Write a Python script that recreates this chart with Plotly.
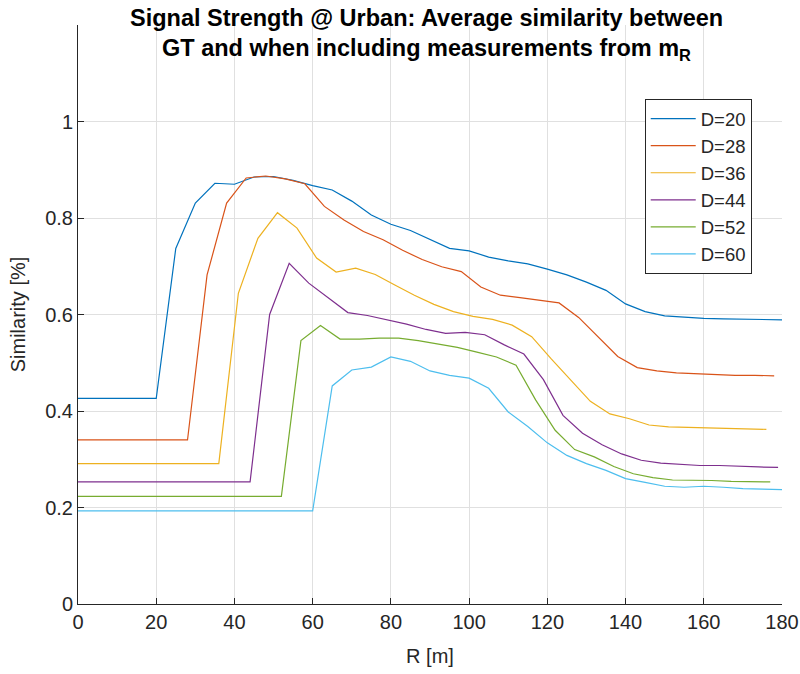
import plotly.graph_objects as go

# ---- data ----
R_d20 = [0] + list(range(20, 181, 5))
S_d20 = [0.426, 0.426, 0.737, 0.831, 0.872, 0.870, 0.885, 0.886, 0.878, 0.867, 0.858, 0.835,
         0.806, 0.787, 0.774, 0.756, 0.737, 0.732, 0.719, 0.711, 0.705, 0.694, 0.682,
         0.667, 0.650, 0.622, 0.606, 0.597, 0.594, 0.592, 0.591, 0.590, 0.590, 0.589]

R_d28 = [0] + list(range(28, 179, 5))
S_d28 = [0.340, 0.340, 0.682, 0.831, 0.883, 0.887, 0.881, 0.871, 0.824, 0.796, 0.772, 0.755,
         0.733, 0.714, 0.699, 0.689, 0.657, 0.640, 0.635, 0.630, 0.624, 0.594, 0.553,
         0.513, 0.490, 0.483, 0.479, 0.477, 0.475, 0.474, 0.474, 0.473]

R_d36 = [0] + list(range(36, 177, 5))
S_d36 = [0.291, 0.291, 0.644, 0.758, 0.811, 0.779, 0.717, 0.688, 0.696, 0.683, 0.661, 0.640,
         0.621, 0.606, 0.596, 0.590, 0.578, 0.554, 0.508, 0.464, 0.420, 0.394, 0.384,
         0.371, 0.367, 0.366, 0.365, 0.364, 0.363, 0.362]

R_d44 = [0] + list(range(44, 180, 5))
S_d44 = [0.253, 0.253, 0.600, 0.706, 0.665, 0.634, 0.604, 0.598, 0.589, 0.580, 0.569, 0.561,
         0.563, 0.558, 0.537, 0.518, 0.465, 0.391, 0.354, 0.330, 0.311, 0.298, 0.292,
         0.289, 0.287, 0.287, 0.285, 0.284, 0.283]

R_d52 = [0] + list(range(52, 178, 5))
S_d52 = [0.223, 0.223, 0.546, 0.577, 0.549, 0.549, 0.551, 0.551, 0.546, 0.539, 0.532, 0.522,
         0.512, 0.495, 0.423, 0.360, 0.320, 0.305, 0.285, 0.270, 0.262, 0.257, 0.257,
         0.256, 0.254, 0.253, 0.253]

R_d60 = [0] + list(range(60, 181, 5))
S_d60 = [0.193, 0.193, 0.452, 0.485, 0.491, 0.512, 0.503, 0.483, 0.474, 0.468, 0.447, 0.398,
         0.368, 0.334, 0.308, 0.291, 0.277, 0.260, 0.252, 0.244, 0.242, 0.244, 0.242,
         0.239, 0.238, 0.237]

labels = ["D=20", "D=28", "D=36", "D=44", "D=52", "D=60"]
xs = [R_d20, R_d28, R_d36, R_d44, R_d52, R_d60]
ys = [S_d20, S_d28, S_d36, S_d44, S_d52, S_d60]
colors = ["#0072BD", "#D95319", "#EDB120", "#7E2F8E", "#77AC30", "#4DBEEE"]

x_ticks = list(range(0, 181, 20))
y_ticks = [0, 0.2, 0.4, 0.6, 0.8, 1]
y_tick_text = ["0", "0.2", "0.4", "0.6", "0.8", "1"]

title_line1 = "Signal Strength @ Urban: Average similarity between"
title_line2 = "GT and when including measurements from m<sub>R</sub>"

FONT = "Liberation Sans, Arial, sans-serif"
AX = "#262626"

fig = go.Figure()
for x, y, lab, c in zip(xs, ys, labels, colors):
    fig.add_trace(go.Scatter(x=x, y=y, mode="lines", name=lab,
                             line=dict(color=c, width=1.2)))

fig.update_layout(
    width=800, height=674,
    margin=dict(l=78, r=18, t=25, b=70, autoexpand=False),
    paper_bgcolor="white", plot_bgcolor="white",
    font=dict(family=FONT, color=AX, size=20),
    legend=dict(x=0.805, y=0.872, xanchor="left", yanchor="top",
                bgcolor="white", bordercolor=AX, borderwidth=1,
                font=dict(family=FONT, size=18.5, color=AX),
                tracegroupgap=0, itemwidth=45),
    showlegend=True,
)
fig.add_annotation(text="<b>" + title_line1 + "</b>", xref="paper", yref="paper",
                   x=0.495, y=(604 - 18) / 579, xanchor="center", yanchor="middle",
                   showarrow=False, font=dict(family=FONT, size=23.5, color="#000000"))
fig.add_annotation(text="<b>" + title_line2 + "</b>", xref="paper", yref="paper",
                   x=0.495, y=(604 - 49) / 579, xanchor="center", yanchor="middle",
                   showarrow=False, font=dict(family=FONT, size=23.5, color="#000000"))

fig.update_xaxes(range=[0, 180], tickvals=x_ticks, showgrid=True, gridcolor="#e0e0e0",
                 gridwidth=1, showline=True, linecolor=AX, linewidth=1, automargin=False,
                 ticks="inside", ticklen=6, tickcolor=AX, zeroline=False,
                 tickfont=dict(size=20, color=AX),
                 title=dict(text="R [m]", font=dict(size=20, color=AX), standoff=16))
fig.update_yaxes(range=[0, 1.2], tickvals=y_ticks, ticktext=y_tick_text, showgrid=True,
                 gridcolor="#e0e0e0", gridwidth=1, showline=True, linecolor=AX,
                 linewidth=1, ticks="inside", ticklen=6, tickcolor=AX, zeroline=False,
                 automargin=False,
                 tickfont=dict(size=20, color=AX),
                 title=dict(text="Similarity [%]", font=dict(size=20, color=AX), standoff=14))

fig.write_html("out.html")
